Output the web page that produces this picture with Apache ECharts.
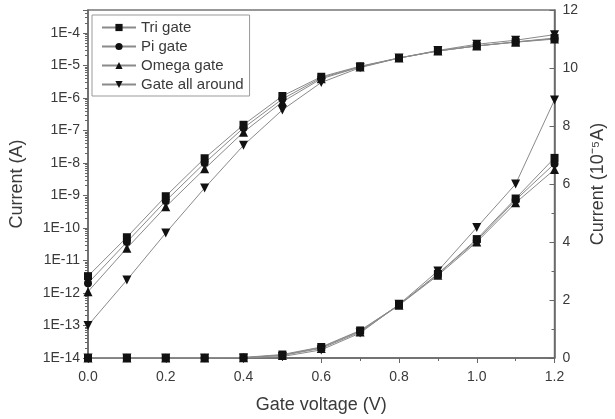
<!DOCTYPE html>
<html>
<head>
<meta charset="utf-8">
<script src="https://cdn.jsdelivr.net/npm/echarts@6/dist/echarts.min.js"></script>
<style>
  html, body { margin: 0; padding: 0; background: #fff; }
  #chart { width: 615px; height: 419px; }
</style>
</head>
<body>
<div id="chart"></div>
<script>
// gate voltage (V)
const gateVoltage = [0.0, 0.1, 0.2, 0.3, 0.4, 0.5, 0.6, 0.7, 0.8, 0.9, 1.0, 1.1, 1.2];

// current on log scale (A)
const triLog   = [3.3e-12, 5.2e-11, 9.5e-10, 1.4e-8, 1.5e-7, 1.15e-6, 4.5e-6, 9.5e-6, 1.7e-5, 2.8e-5, 4.0e-5, 5.3e-5, 7.0e-5];
const piLog    = [2.0e-12, 3.7e-11, 6.8e-10, 1.0e-8, 1.2e-7, 9.3e-7, 4.2e-6, 9.2e-6, 1.7e-5, 2.8e-5, 4.0e-5, 5.3e-5, 6.7e-5];
const omegaLog = [1.1e-12, 2.4e-11, 4.5e-10, 6.6e-9, 8.9e-8, 7.6e-7, 3.9e-6, 9.0e-6, 1.7e-5, 2.8e-5, 4.0e-5, 5.2e-5, 6.5e-5];
const gaaLog   = [1.0e-13, 2.5e-12, 7.0e-11, 1.7e-9, 3.5e-8, 4.3e-7, 3.0e-6, 8.6e-6, 1.7e-5, 2.9e-5, 4.5e-5, 6.0e-5, 8.9e-5];

// current on linear scale (10^-5 A)
const triLin   = [0, 0, 0, 0, 0.02, 0.12, 0.38, 0.95, 1.83, 2.9, 4.1, 5.5, 6.9];
const piLin    = [0, 0, 0, 0, 0.01, 0.10, 0.36, 0.93, 1.83, 2.9, 4.05, 5.45, 6.7];
const omegaLin = [0, 0, 0, 0, 0.01, 0.09, 0.33, 0.90, 1.82, 2.85, 4.0, 5.35, 6.5];
const gaaLin   = [0, 0, 0, 0, 0, 0.05, 0.28, 0.86, 1.85, 3.0, 4.5, 6.0, 8.9];

const names = ['Tri gate', 'Pi gate', 'Omega gate', 'Gate all around'];
const symbols = ['rect', 'circle', 'triangle', 'triangle'];
const rotates = [0, 0, 0, 180];
const sizes = [8, 8, 9, 9];
const logSets = [triLog, piLog, omegaLog, gaaLog];
const linSets = [triLin, piLin, omegaLin, gaaLin];

const font = 'Liberation Sans, Arial, sans-serif';
const textColor = '#3a3a3a';
const axisColor = '#666';

function pairs(ys) {
  return gateVoltage.map((x, i) => [x, ys[i]]);
}

let series = [];
names.forEach((n, k) => {
  const common = {
    name: n,
    type: 'line',
    symbol: symbols[k],
    symbolRotate: rotates[k],
    symbolSize: sizes[k],
    showAllSymbol: true,
    lineStyle: { color: '#8a8a8a', width: 1 },
    itemStyle: { color: '#111' },
    emphasis: { disabled: true },
    animation: false
  };
  series.push(Object.assign({}, common, { yAxisIndex: 0, data: pairs(logSets[k]) }));
  series.push(Object.assign({}, common, { yAxisIndex: 1, data: pairs(linSets[k]) }));
});

const chart = echarts.init(document.getElementById('chart'));
chart.setOption({
  backgroundColor: '#fff',
  animation: false,
  textStyle: { fontFamily: font },
  grid: {
    left: 88, right: 56, top: 10, bottom: 61,
    show: true, borderColor: '#777', borderWidth: 1.5
  },
  legend: {
    data: names,
    orient: 'vertical',
    left: 92, top: 15,
    padding: [5, 6, 4, 9],
    itemGap: 4,
    itemWidth: 34,
    itemHeight: 9,
    borderColor: '#999',
    borderWidth: 1,
    textStyle: { fontSize: 15, color: textColor, fontFamily: font }
  },
  xAxis: {
    type: 'value',
    min: 0, max: 1.2, interval: 0.2,
    name: 'Gate voltage (V)',
    nameLocation: 'middle',
    nameGap: 38,
    nameTextStyle: { fontSize: 18, color: textColor },
    axisLine: { lineStyle: { color: axisColor, width: 1.5 } },
    axisTick: { length: 5, lineStyle: { color: axisColor } },
    minorTick: { show: true, splitNumber: 2, length: 3, lineStyle: { color: axisColor } },
    splitLine: { show: false },
    axisLabel: { fontSize: 14, color: textColor, margin: 12, formatter: v => v.toFixed(1) }
  },
  yAxis: [
    {
      type: 'log',
      logBase: 10,
      min: 1e-14, max: 5.1e-4,
      interval: 1,
      name: 'Current (A)',
      nameLocation: 'middle',
      nameGap: 62,
      nameTextStyle: { fontSize: 18, color: textColor },
      axisLine: { show: true, lineStyle: { color: axisColor, width: 1.5 } },
      axisTick: { length: 5, lineStyle: { color: axisColor } },
      minorTick: { show: true, splitNumber: 9, length: 3, lineStyle: { color: axisColor } },
      splitLine: { show: false },
      axisLabel: {
        fontSize: 14, color: textColor, margin: 8,
        formatter: v => {
          const e = Math.log10(v);
          if (Math.abs(e - Math.round(e)) > 1e-6) return '';
          return '1E' + Math.round(e);
        }
      }
    },
    {
      type: 'value',
      position: 'right',
      min: 0, max: 12, interval: 2,
      name: 'Current (10⁻⁵A)',
      nameLocation: 'middle',
      nameGap: 29,
      nameRotate: 90,
      nameTextStyle: { fontSize: 18, color: textColor },
      axisLine: { show: true, lineStyle: { color: axisColor, width: 1.5 } },
      axisTick: { inside: true, length: 5, lineStyle: { color: axisColor } },
      minorTick: { show: true, splitNumber: 2, length: 3, lineStyle: { color: axisColor } },
      splitLine: { show: false },
      axisLabel: { fontSize: 14, color: textColor, margin: 8 }
    }
  ],
  series: series
});
</script>
</body>
</html>
